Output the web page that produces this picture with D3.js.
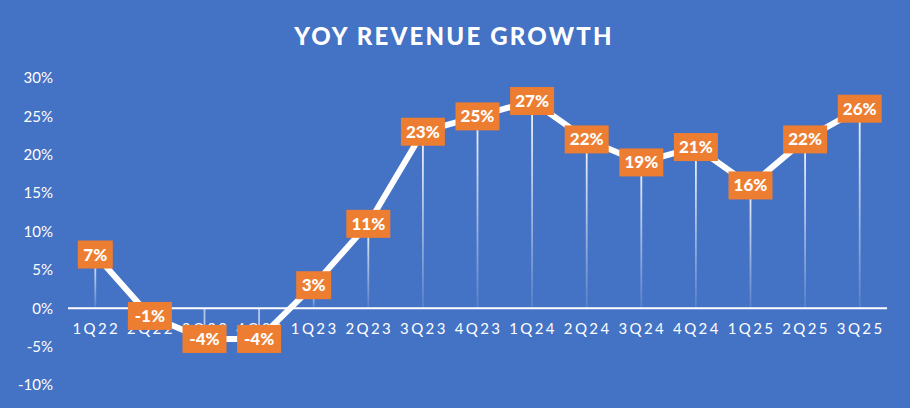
<!DOCTYPE html>
<html>
<head>
<meta charset="utf-8">
<script src="https://cdn.jsdelivr.net/npm/d3@7"></script>
<style>
  html, body { margin: 0; padding: 0; background: #4472C4; }
  text { font-family: Lato, "Open Sans", sans-serif; fill: #fff; }
</style>
</head>
<body>
<div id="chart"></div>
<script>
// quarters and yoy growth (%)
const quarters = ["1Q22","2Q22","3Q22","4Q22","1Q23","2Q23","3Q23","4Q23","1Q24","2Q24","3Q24","4Q24","1Q25","2Q25","3Q25"];
const growth = [7, -1, -4, -4, 3, 11, 23, 25, 27, 22, 19, 21, 16, 22, 26];
const yTicks = [-10, -5, 0, 5, 10, 15, 20, 25, 30];

const svgWidth = 910, svgHeight = 408;

const svg = d3.select("#chart").append("svg")
  .attr("width", svgWidth)
  .attr("height", svgHeight);

svg.append("rect").attr("width", svgWidth).attr("height", svgHeight).attr("fill", "#4472C4");

// gradient for drop lines
const defs = svg.append("defs");
const grad = defs.append("linearGradient")
  .attr("id", "dropGrad")
  .attr("gradientUnits", "objectBoundingBox")
  .attr("x1", 0).attr("y1", 0).attr("x2", 0).attr("y2", 1);
grad.append("stop").attr("offset", "0%").attr("stop-color", "#fff").attr("stop-opacity", 0.95);
grad.append("stop").attr("offset", "100%").attr("stop-color", "#fff").attr("stop-opacity", 0.1);

const x = d3.scaleBand()
  .domain(quarters)
  .range([68, 887]);

const y = d3.scaleLinear()
  .domain([-10, 30])
  .range([385, 78]);

const cx = d => x(d) + x.bandwidth() / 2;

// title
svg.append("text")
  .attr("x", 454)
  .attr("y", 45)
  .attr("text-anchor", "middle")
  .style("font-size", "24px")
  .style("font-weight", "900")
  .style("letter-spacing", "2.2px")
  .text("YOY REVENUE GROWTH");

// y axis labels
svg.append("g")
  .attr("transform", "translate(53,0)")
  .call(d3.axisLeft(y).tickValues(yTicks).tickSize(0).tickPadding(0).tickFormat(d => d + "%"))
  .call(g => g.select(".domain").remove())
  .call(g => g.selectAll("text")
    .attr("fill", "#fff")
    .style("font-size", "15px")
    .style("font-family", "Lato, 'Open Sans', sans-serif"));

// drop lines
svg.append("g").selectAll("rect")
  .data(growth)
  .enter().append("rect")
  .attr("x", (d, i) => cx(quarters[i]) - 0.9)
  .attr("width", 1.8)
  .attr("y", d => Math.min(y(d), y(0)))
  .attr("height", d => Math.max(Math.abs(y(0) - y(d)), 0.5))
  .attr("fill", d => d >= 0 ? "url(#dropGrad)" : "rgba(255,255,255,0.6)");

// x axis line
svg.append("line")
  .attr("x1", 68).attr("x2", 887)
  .attr("y1", y(0)).attr("y2", y(0))
  .attr("stroke", "#fff")
  .attr("stroke-width", 2);

// x axis labels
svg.append("g").selectAll("text")
  .data(quarters)
  .enter().append("text")
  .attr("x", d => cx(d) + 1)
  .attr("y", y(0) + 26)
  .attr("text-anchor", "middle")
  .style("font-size", "15px")
  .style("letter-spacing", "2.4px")
  .text(d => d);

// line
const line = d3.line()
  .x((d, i) => cx(quarters[i]))
  .y(d => y(d));

svg.append("path")
  .datum(growth)
  .attr("d", line)
  .attr("fill", "none")
  .attr("stroke", "#fff")
  .attr("stroke-width", 6)
  .attr("stroke-linejoin", "round");

// data labels
const labels = svg.append("g").selectAll("g")
  .data(growth)
  .enter().append("g")
  .attr("transform", (d, i) => `translate(${cx(quarters[i])},${y(d)})`);

labels.append("rect")
  .attr("x", d => String(Math.abs(d)).length + (d < 0 ? 1 : 0) > 1 ? -22 : -17.5)
  .attr("width", d => String(Math.abs(d)).length + (d < 0 ? 1 : 0) > 1 ? 44 : 35)
  .attr("y", -14)
  .attr("height", 28)
  .attr("fill", "#ED7D31");

labels.append("text")
  .attr("text-anchor", "middle")
  .attr("y", 6)
  .style("font-size", "17px")
  .style("font-weight", "900")
  .text(d => d + "%");
</script>
</body>
</html>
